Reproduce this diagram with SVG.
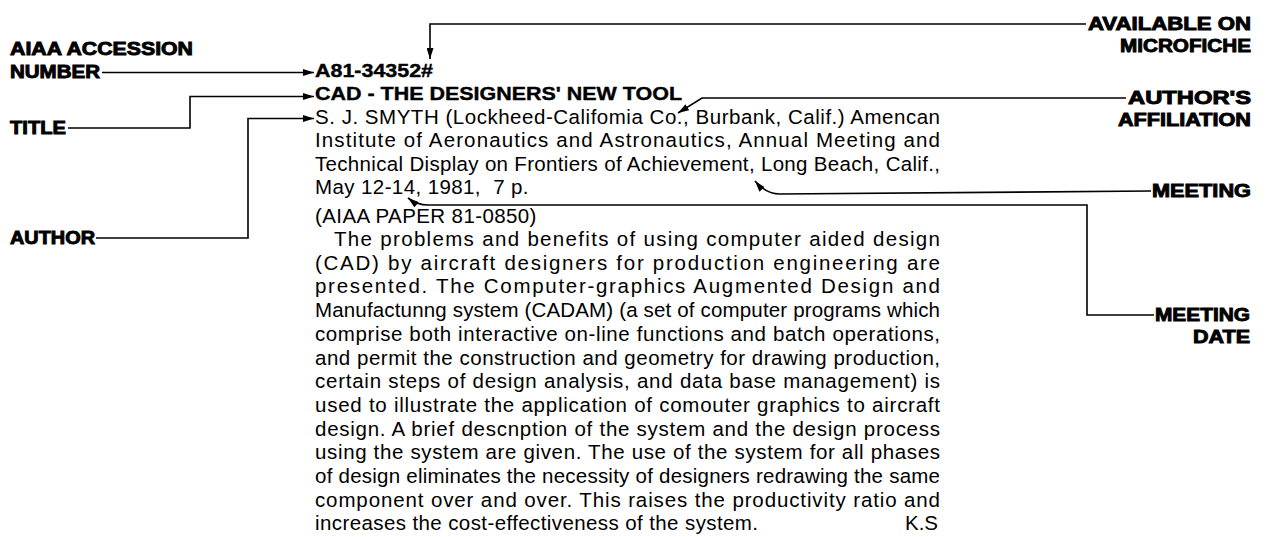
<svg xmlns="http://www.w3.org/2000/svg" width="1271" height="537" viewBox="0 0 1271 537">
<defs>
<marker id="ah" markerUnits="userSpaceOnUse" markerWidth="12" markerHeight="7" refX="11" refY="3.5" orient="auto">
<path d="M0,0 L11,3.5 L0,7 z" fill="#000"/>
</marker>
</defs>
<style>
.lab{font-family:"Liberation Sans",Arial,sans-serif;font-weight:bold;font-size:18px;fill:#000;stroke:#000;stroke-width:0.9px}
.hd{font-family:"Liberation Sans",Arial,sans-serif;font-weight:bold;font-size:19px;fill:#000;stroke:#000;stroke-width:0.4px}
.tx{font-family:"Liberation Sans",Arial,sans-serif;font-size:20.5px;fill:#000}
.ls{letter-spacing:0.4px}
.cn{fill:none;stroke:#000;stroke-width:1.6}
</style>
<rect width="1271" height="537" fill="#fff"/>
<g id="label-accession">
<text class="lab" x="10" y="55" textLength="183" lengthAdjust="spacingAndGlyphs">AIAA  ACCESSION</text>
<text class="lab" x="10" y="78" textLength="90" lengthAdjust="spacingAndGlyphs">NUMBER</text>
</g>
<g id="label-title"><text class="lab" x="10" y="134" textLength="56" lengthAdjust="spacingAndGlyphs">TITLE</text></g>
<g id="label-author"><text class="lab" x="10" y="244" textLength="85" lengthAdjust="spacingAndGlyphs">AUTHOR</text></g>
<g id="label-microfiche">
<text class="lab" x="1251" y="30" text-anchor="end" textLength="163" lengthAdjust="spacingAndGlyphs">AVAILABLE  ON</text>
<text class="lab" x="1251" y="52" text-anchor="end" textLength="131" lengthAdjust="spacingAndGlyphs">MICROFICHE</text>
</g>
<g id="label-affiliation">
<text class="lab" x="1251" y="104" text-anchor="end" textLength="123" lengthAdjust="spacingAndGlyphs">AUTHOR'S</text>
<text class="lab" x="1251" y="126" text-anchor="end" textLength="133" lengthAdjust="spacingAndGlyphs">AFFILIATION</text>
</g>
<g id="label-meeting"><text class="lab" x="1251" y="197" text-anchor="end" textLength="99" lengthAdjust="spacingAndGlyphs">MEETING</text></g>
<g id="label-meeting-date">
<text class="lab" x="1250" y="321" text-anchor="end" textLength="95" lengthAdjust="spacingAndGlyphs">MEETING</text>
<text class="lab" x="1250" y="343" text-anchor="end" textLength="57" lengthAdjust="spacingAndGlyphs">DATE</text>
</g>
<g id="record">
<text class="hd" x="315" y="77" textLength="118" lengthAdjust="spacingAndGlyphs">A81-34352#</text>
<text class="hd" x="315" y="100" textLength="367" lengthAdjust="spacingAndGlyphs">CAD - THE DESIGNERS' NEW TOOL</text>
<text class="tx" x="315" y="124" textLength="625" lengthAdjust="spacing">S. J. SMYTH (Lockheed-Califomia Co., Burbank, Calif.)   Amencan</text>
<text class="tx" x="315" y="147" textLength="625" lengthAdjust="spacing">Institute of Aeronautics and Astronautics, Annual Meeting and</text>
<text class="tx" x="315" y="170.5" textLength="625" lengthAdjust="spacing">Technical Display on Frontiers of Achievement, Long Beach, Calif.,</text>
<text class="tx ls" x="315" y="194" xml:space="preserve">May 12-14, 1981,  7 p.</text>
<text class="tx ls" x="315" y="223">(AIAA PAPER 81-0850)</text>
<text class="tx" x="334" y="246" textLength="606" lengthAdjust="spacing">The problems and benefits of using computer aided design</text>
<text class="tx" x="315" y="269.7" textLength="625" lengthAdjust="spacing">(CAD) by aircraft designers for production engineering are</text>
<text class="tx" x="315" y="293.4" textLength="625" lengthAdjust="spacing">presented. The Computer-graphics Augmented Design and</text>
<text class="tx" x="315" y="317.1" textLength="625" lengthAdjust="spacing">Manufactunng system (CADAM) (a set of computer programs which</text>
<text class="tx" x="315" y="340.8" textLength="625" lengthAdjust="spacing">comprise both interactive on-line functions and batch operations,</text>
<text class="tx" x="315" y="364.5" textLength="625" lengthAdjust="spacing">and permit the construction and geometry for drawing production,</text>
<text class="tx" x="315" y="388.2" textLength="625" lengthAdjust="spacing">certain steps of design analysis, and data base management) is</text>
<text class="tx" x="315" y="411.9" textLength="625" lengthAdjust="spacing">used to illustrate the application of comouter graphics to aircraft</text>
<text class="tx" x="315" y="435.6" textLength="625" lengthAdjust="spacing">design. A brief descnption of the system and the design process</text>
<text class="tx" x="315" y="459.3" textLength="625" lengthAdjust="spacing">using the system are given. The use of the system for all phases</text>
<text class="tx" x="315" y="483" textLength="625" lengthAdjust="spacing">of design eliminates the necessity of designers redrawing the same</text>
<text class="tx" x="315" y="506.7" textLength="625" lengthAdjust="spacing">component over and over. This raises the productivity ratio and</text>
<text class="tx ls" x="315" y="530.4">increases the cost-effectiveness of the system.</text>
<text class="tx" x="938" y="530.4" text-anchor="end">K.S</text>
</g>
<g id="connectors">
<path class="cn" d="M102 72.5 H314" marker-end="url(#ah)"/>
<path class="cn" d="M68 128 H190 V96.5 H314" marker-end="url(#ah)"/>
<path class="cn" d="M96 238 H248 V118.5 H314" marker-end="url(#ah)"/>
<path class="cn" d="M1086 24 H430 V59" marker-end="url(#ah)"/>
<path class="cn" d="M1126 98 H702 L678 113" marker-end="url(#ah)"/>
<path class="cn" d="M1151 191 L780 194 Q766 194 755 181" marker-end="url(#ah)"/>
<path class="cn" d="M1154 315 H1087 V205 H428 Q417 205 408 198" marker-end="url(#ah)"/>
</g>
</svg>
